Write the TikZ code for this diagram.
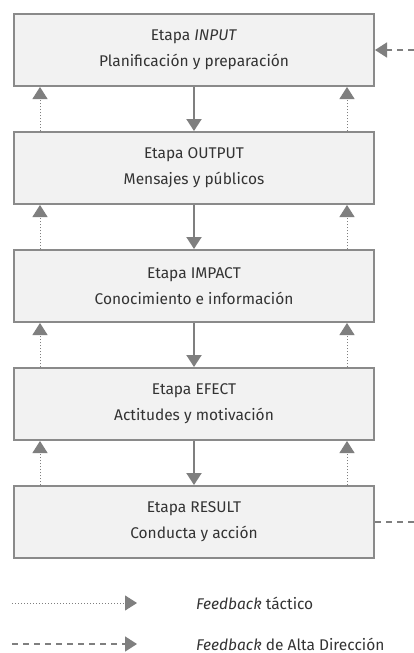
\documentclass[tikz,border=0pt]{standalone}
\usepackage{fontspec}
\setmainfont{Fira Sans}
\usetikzlibrary{arrows.meta}
\definecolor{boxfill}{HTML}{F2F2F2}
\definecolor{boxline}{HTML}{8A8A8A}
\definecolor{arrowgray}{HTML}{7F7F7F}
\definecolor{txt}{HTML}{333333}
\begin{document}
\begin{tikzpicture}[x=1pt,y=-1pt,
  stagebox/.style={draw=boxline, fill=boxfill, line width=2pt, minimum width=360pt, minimum height=72pt,
    align=center, text=txt, font=\fontsize{15.5}{26}\selectfont, inner sep=0pt},
  tip/.style={-{Triangle[length=12pt,width=15pt]}},
  down/.style={draw=arrowgray, line width=2pt, tip},
  fbdot/.style={draw=arrowgray, line width=1pt, dotted, tip},
  fbdash/.style={draw=arrowgray, line width=1.5pt, dash pattern=on 6pt off 5pt, tip},
  legtext/.style={anchor=west, text=txt, font=\fontsize{15.5}{18}\selectfont, inner sep=0pt}]
\useasboundingbox (0,0) rectangle (414,653);
\fill[white] (0,0) rectangle (414,653);
\node[stagebox] (b1) at (194,50) {Etapa \textit{INPUT}\\Planificación y preparación};
\node[stagebox] (b2) at (194,168) {Etapa OUTPUT\\Mensajes y públicos};
\node[stagebox] (b3) at (194,286) {Etapa IMPACT\\Conocimiento e información};
\node[stagebox] (b4) at (194,404) {Etapa EFECT\\Actitudes y motivación};
\node[stagebox] (b5) at (194,522) {Etapa RESULT\\Conducta y acción};
\foreach \u/\l in {b1/b2,b2/b3,b3/b4,b4/b5}{
  \draw[down] (\u.south) -- (\l.north);
  \draw[fbdot] ([xshift=27pt]\l.north west) -- ([xshift=27pt]\u.south west);
  \draw[fbdot] ([xshift=-28pt]\l.north east) -- ([xshift=-28pt]\u.south east);
}
\coordinate (inR) at (414,50);
\coordinate (outR) at (414,522);
\draw[fbdash] (inR) -- (b1.east);
\draw[draw=arrowgray, line width=1.5pt, dash pattern=on 6pt off 5pt] (b5.east) -- (outR);
\coordinate (l1s) at (12,603);
\coordinate (l1e) at (137,603);
\coordinate (l2s) at (12,644);
\coordinate (l2e) at (137,644);
\draw[fbdot] (l1s) -- (l1e);
\draw[fbdash] (l2s) -- (l2e);
\node[legtext] (t1) at (196,603) {\textit{Feedback} táctico};
\node[legtext] (t2) at (196,644) {\textit{Feedback} de Alta Dirección};
\end{tikzpicture}
\end{document}
